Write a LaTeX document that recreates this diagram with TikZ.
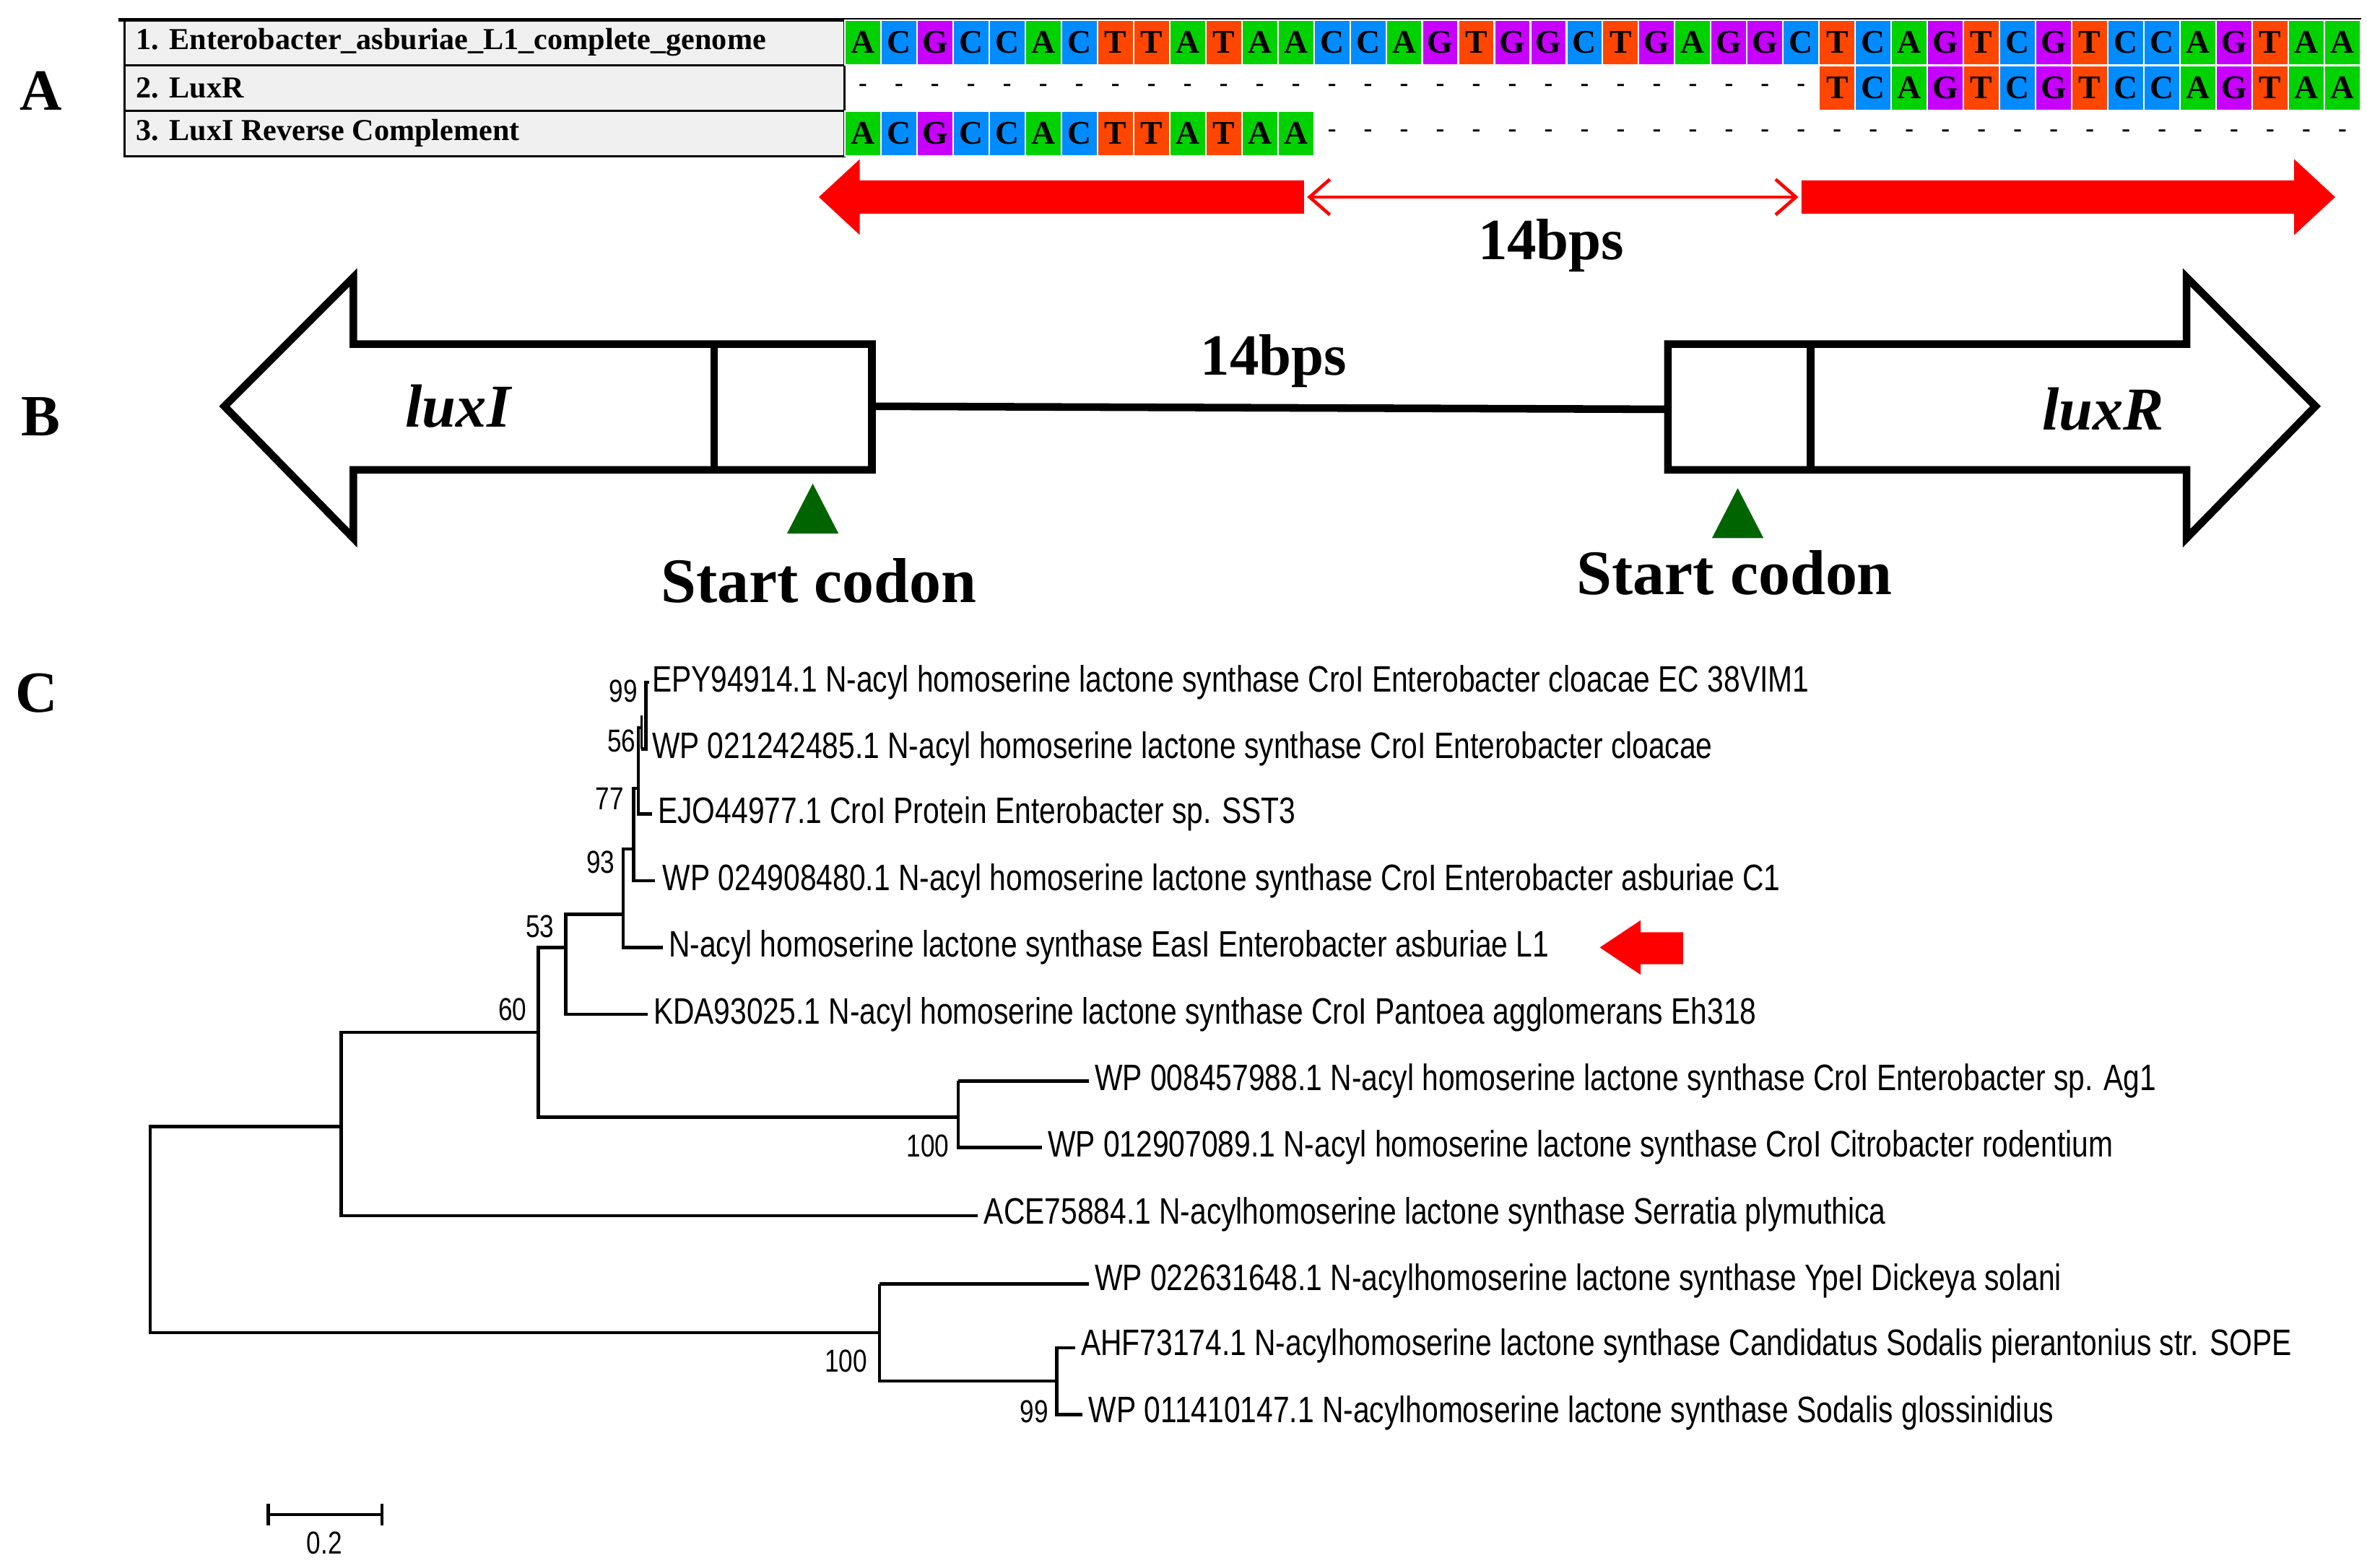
\documentclass[tikz,border=0pt]{standalone}
\usepackage{fontspec}
\setmainfont{Liberation Serif}
\newfontfamily\treefont{Liberation Sans}
\usetikzlibrary{arrows.meta}
\definecolor{ntA}{RGB}{0,210,0}
\definecolor{ntC}{RGB}{0,140,255}
\definecolor{ntG}{RGB}{200,0,255}
\definecolor{ntT}{RGB}{255,70,0}
\definecolor{codon}{RGB}{0,100,0}
\newcommand{\leaf}[1]{\scalebox{0.8}[1]{#1}}
\tikzset{
  cell/.style={minimum width=0.5cm, minimum height=0.62cm, inner sep=0pt, draw=white, line width=0.6pt,
    font=\fontsize{13}{13}\selectfont\bfseries},
  dot/.style={font=\bfseries},
  seqname/.style={anchor=west, font=\fontsize{12}{12}\selectfont\bfseries},
  big/.style={font=\fontsize{23}{23}\selectfont\bfseries},
  branch/.style={line width=1.3pt},
  lbl/.style={anchor=west, inner sep=1pt, font=\treefont\fontsize{14.5}{15}\selectfont},
  boot/.style={inner sep=1pt, font=\treefont\fontsize{12.5}{13}\selectfont},
}
\begin{document}
\begin{tikzpicture}[x=0.021cm, y=-0.021cm, >=stealth]
\useasboundingbox (0,0) rectangle (1561,1034);

% A: alignment
\node[big] (labA) at (27,60) {A};
\foreach \r/\t in {1/1. Enterobacter\_asburiae\_L1\_complete\_genome, 2/2. LuxR, 3/3. LuxI Reverse Complement}
{
    \draw[fill=black!6, line width=0.8pt] (82,{13+30*(\r-1)}) rectangle (557,{13+30*\r});
    \node[seqname] (nm\r) at (84,{28+30*(\r-1)}) {\t};
}
\draw[line width=1.5pt] (78,13)--(1557,13);
\foreach \b [count=\i from 0] in {A,C,G,C,C,A,C,T,T,A,T,A,A,C,C,A,G,T,G,G,C,T,G,A,G,G,C,T,C,A,G,T,C,G,T,C,C,A,G,T,A,A}
    \node[cell, fill=nt\b] (s1-\i) at ({569+23.8*\i},28) {\b};
\foreach \b [count=\i from 27] in {T,C,A,G,T,C,G,T,C,C,A,G,T,A,A}
    \node[cell, fill=nt\b] (s2-\i) at ({569+23.8*\i},58) {\b};
\foreach \b [count=\i from 0] in {A,C,G,C,C,A,C,T,T,A,T,A,A}
    \node[cell, fill=nt\b] (s3-\i) at ({569+23.8*\i},88) {\b};
\foreach \i in {0,...,26}
    \node[dot] at ({569+23.8*\i},58) {-};
\foreach \i in {13,...,41}
    \node[dot] at ({569+23.8*\i},88) {-};

% red arrows
\fill[red] (540,130)--(567,105)--(567,119)--(860,119)--(860,141)--(567,141)--(567,155)--cycle;
\fill[red] (1540,130)--(1513,105)--(1513,119)--(1188,119)--(1188,141)--(1513,141)--(1513,155)--cycle;
\coordinate (gapL) at (862,130);
\coordinate (gapR) at (1186,130);
\draw[red, line width=1.3pt, {Straight Barb[length=8pt,width=14pt]}-{Straight Barb[length=8pt,width=14pt]}] (gapL)--(gapR);
\node[big] (bpA) at (1023,162) {14bps};

% B: genes
\node[big] (labB) at (27,275) {B};
\draw[line width=3pt] (148,268)--(233,183)--(233,227)--(575,227)--(575,310)--(233,310)--(233,355)--cycle;
\draw[line width=3pt] (471,227)--(471,310);
\draw[line width=3pt] (1527,268)--(1442,183)--(1442,227)--(1100,227)--(1100,310)--(1442,310)--(1442,355)--cycle;
\draw[line width=3pt] (1194,227)--(1194,310);
\coordinate (luxIend) at (575,268);
\coordinate (luxRend) at (1100,270);
\draw[line width=3pt] (luxIend)--(luxRend);
\node[big] (bpB) at (840,238) {14bps};
\node[font=\fontsize{24}{24}\selectfont\bfseries\itshape] (luxI) at (302,268) {luxI};
\node[font=\fontsize{24}{24}\selectfont\bfseries\itshape] (luxR) at (1387,270) {luxR};
\fill[codon] (519,352)--(553,352)--(536,319)--cycle;
\fill[codon] (1129,355)--(1163,355)--(1146,322)--cycle;
\node[font=\fontsize{25}{25}\selectfont\bfseries] (scI) at (540,383) {Start codon};
\node[font=\fontsize{25}{25}\selectfont\bfseries] (scR) at (1144,378) {Start codon};

% C: tree
\node[big] (labC) at (24,457) {C};
\draw[branch] (225,743)--(99,743)--(99,879)--(580,879);
\draw[branch] (355,681)--(225,681)--(225,802)--(645,802);
\draw[branch] (373,625)--(355,625)--(355,737)--(632,737);
\draw[branch] (411,603)--(373,603)--(373,669)--(427,669);
\draw[branch] (418,560)--(411,560)--(411,625)--(437,625);
\draw[branch] (421,520)--(418,520)--(418,581)--(432,581);
\draw[branch] (423,480)--(421,480)--(421,537)--(430,537);
\draw[branch] (423,494)--(426,494)--(426,450)--(428,450);
\draw[line width=0.9pt] (423,472)--(423,494);
\draw[branch] (632,713)--(632,757)--(687,757);
\draw[branch] (632,713)--(718,713);
\draw[branch] (580,847)--(580,911)--(697,911);
\draw[branch] (580,847)--(718,847);
\draw[branch] (709,889)--(697,889)--(697,933)--(714,933);
\node[lbl] (t1) at (428,450) {\leaf{EPY94914.1 N-acyl homoserine lactone synthase CroI Enterobacter cloacae EC 38VIM1}};
\node[lbl] (t2) at (428,494) {\leaf{WP 021242485.1 N-acyl homoserine lactone synthase CroI Enterobacter cloacae}};
\node[lbl] (t3) at (432,537) {\leaf{EJO44977.1 CroI Protein Enterobacter sp. SST3}};
\node[lbl] (t4) at (435,581) {\leaf{WP 024908480.1 N-acyl homoserine lactone synthase CroI Enterobacter asburiae C1}};
\node[lbl] (t5) at (439,625) {\leaf{N-acyl homoserine lactone synthase EasI Enterobacter asburiae L1}};
\node[lbl] (t6) at (429,669) {\leaf{KDA93025.1 N-acyl homoserine lactone synthase CroI Pantoea agglomerans Eh318}};
\node[lbl] (t7) at (720,713) {\leaf{WP 008457988.1 N-acyl homoserine lactone synthase CroI Enterobacter sp. Ag1}};
\node[lbl] (t8) at (689,757) {\leaf{WP 012907089.1 N-acyl homoserine lactone synthase CroI Citrobacter rodentium}};
\node[lbl] (t9) at (647,801) {\leaf{ACE75884.1 N-acylhomoserine lactone synthase Serratia plymuthica}};
\node[lbl] (t10) at (720,845) {\leaf{WP 022631648.1 N-acylhomoserine lactone synthase YpeI Dickeya solani}};
\node[lbl] (t11) at (711,888) {\leaf{AHF73174.1 N-acylhomoserine lactone synthase Candidatus Sodalis pierantonius str. SOPE}};
\node[lbl] (t12) at (716,932) {\leaf{WP 011410147.1 N-acylhomoserine lactone synthase Sodalis glossinidius}};
\foreach \v/\x/\y in {99/411/456, 56/410/489, 77/402/527, 93/396/569, 53/356/611, 60/338/666, 100/612/756, 100/558/898, 99/682/931}
    \node[boot] at (\x,\y) {\leaf{\v}};
\fill[red] (1055,625)--(1082,607)--(1082,615)--(1110,615)--(1110,636)--(1082,636)--(1082,643)--cycle;
\draw[branch] (177,992)--(177,1006);
\draw[branch] (252,992)--(252,1006);
\draw[branch] (177,999)--(252,999);
\node[boot] (scale) at (214,1018) {\leaf{0.2}};
\end{tikzpicture}
\end{document}
